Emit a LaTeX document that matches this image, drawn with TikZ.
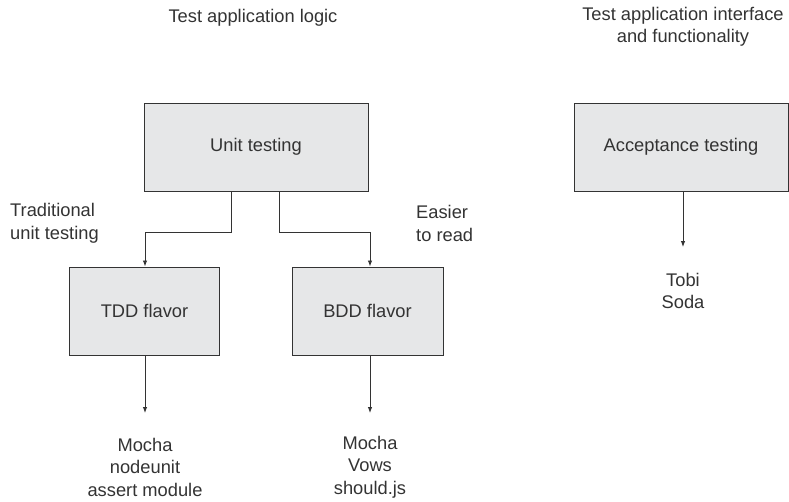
\documentclass[tikz,border=0pt]{standalone}
\usepackage{fontspec}
\setmainfont{Liberation Sans}
\usetikzlibrary{arrows.meta}
\definecolor{boxfill}{HTML}{E6E7E8}
\definecolor{ink}{HTML}{333333}
\begin{document}
\begin{tikzpicture}[x=1pt,y=-1pt,
  txt/.style={font=\fontsize{18.3}{22.5}\selectfont, text=ink, inner sep=0pt},
  box/.style={draw=ink, fill=boxfill, line width=1pt, minimum width=#1, minimum height=88pt, inner sep=0pt, font=\fontsize{18.3}{22.5}\selectfont, text=ink},
  conn/.style={draw=ink, line width=0.9pt, -{Latex[length=6pt,width=4.5pt]}}]
\useasboundingbox (0,0) rectangle (789,501);
\node[box=224pt] (unit) at (256,147) {Unit testing};
\node[box=150pt] (tdd) at (144.5,311) {TDD flavor};
\node[box=151pt] (bdd) at (367.5,311) {BDD flavor};
\node[box=214pt] (acc) at (681,147) {Acceptance testing};

\node[txt] (t1) at (253,18) {Test application logic};
\node[txt, align=center] (t2) at (683,27) {Test application interface\\and functionality};
\node[txt, align=left, anchor=west] (trad) at (10,223.5) {Traditional\\unit testing};
\node[txt, align=left, anchor=west] (easy) at (416,223.5) {Easier\\to read};
\node[txt, align=center] (tobi) at (683,291) {Tobi\\Soda};
\node[txt, align=center] (tddlib) at (145,467) {Mocha\\nodeunit\\assert module};
\node[txt, align=center] (bddlib) at (370,467) {Mocha\\Vows\\should.js};

\coordinate (a1) at (145,413);
\coordinate (b1) at (370,413);
\coordinate (c1) at (683,247);

\draw[conn] (unit.south -| 231,0) |- (145,232) -- (tdd.north -| 145,0);
\draw[conn] (unit.south -| 279,0) |- (370,232) -- (bdd.north -| 370,0);
\draw[conn] (tdd.south -| 145,0) -- (a1);
\draw[conn] (bdd.south -| 370,0) -- (b1);
\draw[conn] (acc.south -| 683,0) -- (c1);
\end{tikzpicture}
\end{document}
